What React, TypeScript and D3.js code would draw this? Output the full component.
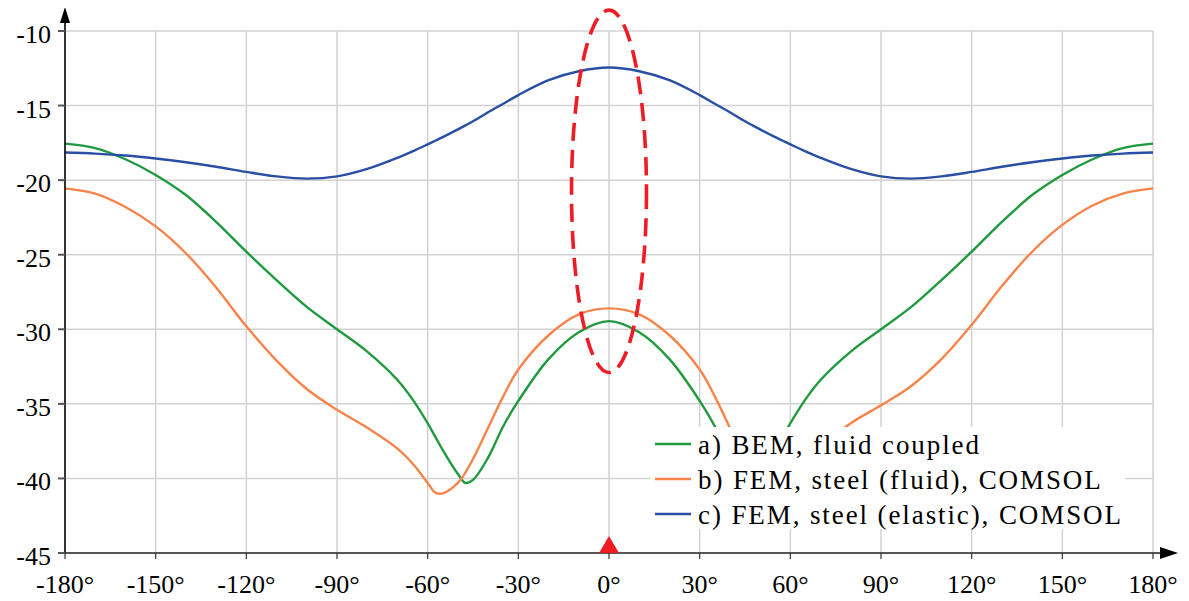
import * as d3 from 'd3';

// angles (deg) shared by the three series
const angles = [-180, -170, -160, -150, -140, -130, -120, -110, -100, -90, -80, -70, -65, -60, -57.5, -55, -50, -47.5, -45, -40, -35, -30, -20, -10, 0,
  10, 20, 30, 35, 40, 45, 47.5, 50, 55, 57.5, 60, 65, 70, 80, 90, 100, 110, 120, 130, 140, 150, 160, 170, 180];

const bemFluid = [-17.55, -17.85, -18.6, -19.65, -21.0, -22.8, -24.8, -26.7, -28.5, -30.0, -31.5, -33.4, -34.7, -36.3, -37.2, -38.1, -39.7, -40.3, -40.1, -38.6, -36.5, -34.8, -32.0, -30.2, -29.45,
  -30.2, -32.0, -34.8, -36.5, -38.6, -40.1, -40.3, -39.7, -38.1, -37.2, -36.3, -34.7, -33.4, -31.5, -30.0, -28.5, -26.7, -24.8, -22.8, -21.0, -19.65, -18.6, -17.85, -17.55];

const femFluid = [-20.55, -20.9, -21.8, -23.1, -24.9, -27.2, -29.8, -32.1, -34.0, -35.4, -36.6, -38.0, -39.0, -40.3, -40.95, -41.0, -40.3, -39.6, -38.7, -36.6, -34.5, -32.7, -30.4, -29.0, -28.6,
  -29.0, -30.4, -32.7, -34.5, -36.6, -38.7, -39.6, -40.3, -41.0, -40.95, -40.3, -39.0, -37.9, -36.3, -35.1, -33.8, -32.0, -29.7, -27.1, -24.8, -23.0, -21.7, -20.9, -20.55];

const femElastic = [-18.15, -18.22, -18.35, -18.55, -18.8, -19.1, -19.45, -19.75, -19.9, -19.75, -19.25, -18.5, -18.07, -17.6, -17.36, -17.12, -16.6, -16.33, -16.05, -15.45, -14.88, -14.3, -13.3, -12.7, -12.45,
  -12.7, -13.3, -14.3, -14.88, -15.45, -16.05, -16.33, -16.6, -17.12, -17.36, -17.6, -18.07, -18.5, -19.25, -19.75, -19.9, -19.75, -19.45, -19.1, -18.8, -18.55, -18.35, -18.22, -18.15];

const seriesNames = ['a) BEM, fluid coupled', 'b) FEM, steel (fluid), COMSOL', 'c) FEM, steel (elastic), COMSOL'];
const seriesColors = ['#1f9a3e', '#f7844a', '#2a4ea3'];

const xTicks = [-180, -150, -120, -90, -60, -30, 0, 30, 60, 90, 120, 150, 180];
const yTicks = [-45, -40, -35, -30, -25, -20, -15, -10];

// highlighted region (dashed ellipse), in data units
const ellipseCenter = [0, -20.75];
const ellipseRadius = [12.4, 12.15];

const serif = 'Liberation Serif';

const App = () => {
  const x = d3.scaleLinear().domain([-180, 180]).range([65, 1153]);
  const y = d3.scaleLinear().domain([-45, -10]).range([553, 31]);
  const x0 = x(-180);
  const yb = y(-45);

  const line = d3.line<number>()
    .x((d, i) => x(angles[i]))
    .y(d => y(d))
    .curve(d3.curveCatmullRom.alpha(0.5));
  const all = [bemFluid, femFluid, femElastic];

  return (
    <div style={{ margin: -8 }}>
      <svg width={1189} height={601} style={{ display: 'block', fontFamily: serif }}>
        {/* grid */}
        {xTicks.filter(d => d > -180).map(d => (
          <line key={'gx' + d} x1={x(d)} x2={x(d)} y1={y(-10)} y2={yb} stroke="#d2d2d2" strokeWidth={1.5} />
        ))}
        {yTicks.filter(d => d > -45).map(d => (
          <line key={'gy' + d} x1={x0} x2={x(180)} y1={y(d)} y2={y(d)} stroke="#d2d2d2" strokeWidth={1.5} />
        ))}

        {/* curves */}
        {all.map((s, i) => (
          <path key={'s' + i} d={line(s) ?? ''} fill="none" stroke={seriesColors[i]} strokeWidth={2.4} />
        ))}

        {/* axes */}
        <line x1={x0} x2={1165} y1={yb} y2={yb} stroke="#555" strokeWidth={2} />
        <path d={`M1178,${yb} L1160,${yb - 6} L1160,${yb + 6} Z`} fill="black" />
        <line x1={x0} x2={x0} y1={yb} y2={20} stroke="black" strokeWidth={1.6} />
        <path d={`M${x0},7 L${x0 - 5},23 L${x0 + 5},23 Z`} fill="black" />

        {xTicks.map(d => (
          <line key={'tx' + d} x1={x(d)} x2={x(d)} y1={yb} y2={yb + 6} stroke="#333" strokeWidth={1.2} />
        ))}
        {xTicks.map(d => (
          <text key={'lx' + d} x={x(d)} y={593} textAnchor="middle" fontSize={26} style={{ fontFamily: serif }}>{d + '°'}</text>
        ))}
        {yTicks.map(d => (
          <line key={'ty' + d} x1={x0 - 7} x2={x0} y1={y(d)} y2={y(d)} stroke="#555" strokeWidth={2} />
        ))}
        {yTicks.map(d => (
          <text key={'ly' + d} x={51} y={y(d) + 12} textAnchor="end" fontSize={26} style={{ fontFamily: serif }}>{String(d)}</text>
        ))}

        {/* marker on the x-axis */}
        <path d={`M${x(0)},${yb - 17} L${x(0) - 10},${yb} L${x(0) + 10},${yb} Z`} fill="#ee1c25" />

        {/* dashed ellipse */}
        <ellipse cx={x(ellipseCenter[0])} cy={y(ellipseCenter[1])}
          rx={x(ellipseRadius[0]) - x(0)} ry={yb - y(-45 + ellipseRadius[1])}
          fill="none" stroke="#ee1c25" strokeWidth={3.6} strokeDasharray="18,9" />

        {/* legend */}
        <rect x={651} y={427} width={474} height={102} fill="white" />
        {seriesNames.map((name, i) => {
          const ry = 444 + i * 35;
          return (
            <g key={'lg' + i}>
              <line x1={655} x2={691} y1={ry} y2={ry} stroke={seriesColors[i]} strokeWidth={2.4} />
              <text x={698} y={ry + 10} fontSize={27}
                style={{ fontFamily: serif, letterSpacing: '1.9px' }}>{name}</text>
            </g>
          );
        })}
      </svg>
    </div>
  );
};

export default App;
